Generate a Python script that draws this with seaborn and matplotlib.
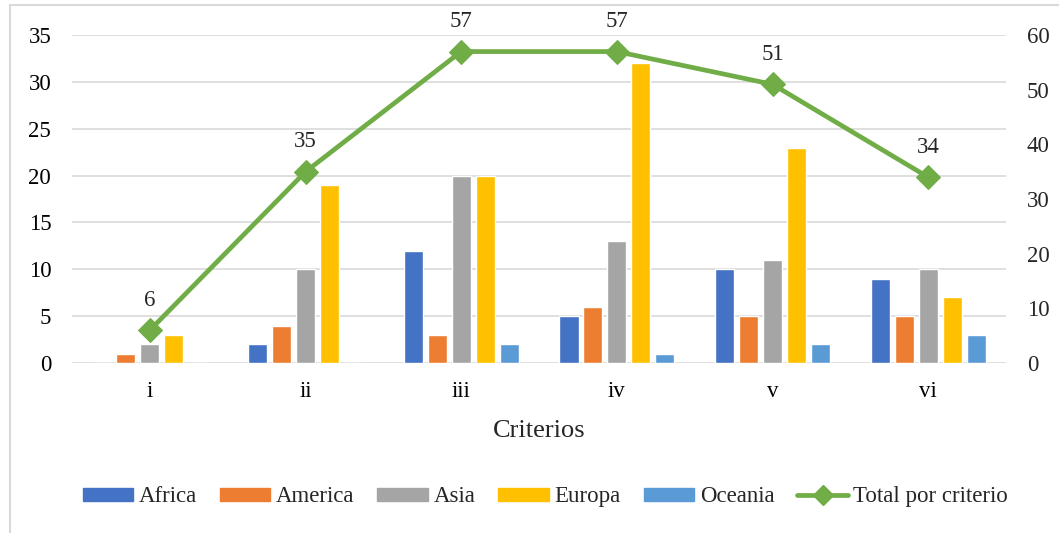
import numpy as np
import pandas as pd
import seaborn as sns
import matplotlib.pyplot as plt
from matplotlib.patches import Rectangle
from matplotlib.lines import Line2D

criterios = ['i', 'ii', 'iii', 'iv', 'v', 'vi']
africa = [0, 2, 12, 5, 10, 9]
america = [1, 4, 3, 6, 5, 5]
asia = [2, 10, 20, 13, 11, 10]
europa = [3, 19, 20, 32, 23, 7]
oceania = [0, 0, 2, 1, 2, 3]
total = [6, 35, 57, 57, 51, 34]

regiones = ['Africa', 'America', 'Asia', 'Europa', 'Oceania']
colores = ['#4472C4', '#ED7D31', '#A5A5A5', '#FFC000', '#5B9BD5']
verde = '#70AD47'

df = pd.DataFrame({'Criterio': criterios * 5,
                   'Region': np.repeat(regiones, len(criterios)),
                   'Valor': africa + america + asia + europa + oceania})

sns.set_style('white')
plt.rcParams['font.family'] = ['Liberation Serif', 'DejaVu Serif']

fig = plt.figure(figsize=(10.59, 5.33), dpi=100)
ax = fig.add_axes([0.068, 0.319, 0.882, 0.615])

sns.barplot(data=df, x='Criterio', y='Valor', hue='Region', order=criterios,
            hue_order=regiones, palette=colores, width=0.77, gap=0.2,
            saturation=1, ax=ax, legend=False)

ax.set_ylim(0, 35)
ax.set_yticks(range(0, 36, 5))
ax.set_xlim(-0.5, 5.5)
ax.grid(axis='y', color='#D9D9D9', linewidth=1.2)
ax.set_axisbelow(True)
for s in ax.spines.values():
    s.set_visible(False)
ax.tick_params(axis='both', length=0, labelsize=16.5, colors='black')
ax.tick_params(axis='x', pad=13)
ax.tick_params(axis='y', pad=15)
ax.set_ylabel('')
ax.set_xlabel('Criterios', fontsize=19, labelpad=13)

ax2 = ax.twinx()
xs = np.arange(len(criterios))
sns.lineplot(x=xs, y=total, color=verde, linewidth=3.4, marker='D',
             markersize=12, markeredgecolor=verde, ax=ax2)
ax2.set_ylim(0, 60)
ax2.set_yticks(range(0, 61, 10))
for s in ax2.spines.values():
    s.set_visible(False)
ax2.tick_params(axis='y', length=0, labelsize=16.5, pad=15)
ax2.set_xlim(-0.5, 5.5)
for x, t in zip(xs, total):
    ax2.annotate(str(t), (x, t), xytext=(0, 14), textcoords='offset points',
                 ha='center', va='bottom', fontsize=16.5)

handles = [Rectangle((0, 0), 1, 1, color=c) for c in colores]
handles.append(Line2D([], [], color=verde, linewidth=3.4, marker='D', markersize=10))
fig.legend(handles, regiones + ['Total por criterio'], loc='center',
           bbox_to_anchor=(0.515, 0.068), ncol=6, frameon=False, fontsize=16.5,
           handlelength=2.2, handleheight=0.5, columnspacing=1.0, handletextpad=0.25)

fig.patches.append(Rectangle((10 / 1059, -0.1), 1.2, 1.09, transform=fig.transFigure,
                             fill=False, edgecolor='#D9D9D9', linewidth=1.5))

fig.savefig('out.png', dpi=100)
